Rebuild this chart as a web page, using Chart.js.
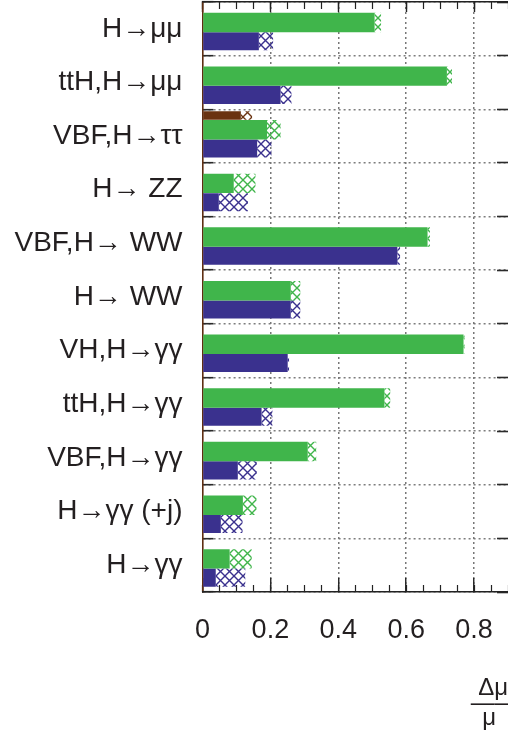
<!DOCTYPE html>
<html>
<head>
<meta charset="utf-8">
<style>
  html, body { margin: 0; padding: 0; background: #ffffff; }
  #wrap { width: 508px; height: 737px; }
</style>
<script src="https://cdn.jsdelivr.net/npm/chart.js@4.4.1/dist/chart.umd.min.js"></script>
</head>
<body>
<div id="wrap"><canvas id="c" width="508" height="737"></canvas></div>
<script>
// ---------- data ----------
const categories = ['H→μμ', 'ttH,H→μμ', 'VBF,H→ττ', 'H→ ZZ', 'VBF,H→ WW', 'H→ WW',
                    'VH,H→γγ', 'ttH,H→γγ', 'VBF,H→γγ', 'H→γγ (+j)', 'H→γγ'];
// green series: solid part and end of hatched part
const greenStat  = [0.507, 0.720, 0.190, 0.092, 0.663, 0.260, 0.769, 0.536, 0.310, 0.119, 0.080];
const greenTotal = [0.526, 0.735, 0.230, 0.156, 0.670, 0.288, 0.772, 0.553, 0.335, 0.159, 0.145];
// blue series
const blueStat   = [0.166, 0.230, 0.161, 0.048, 0.574, 0.260, 0.251, 0.174, 0.104, 0.054, 0.039];
const blueTotal  = [0.208, 0.262, 0.203, 0.134, 0.582, 0.288, 0.255, 0.206, 0.160, 0.118, 0.126];
// brown series (only VBF,H→ττ)
const brownStat  = [null, null, 0.113, null, null, null, null, null, null, null, null];
const brownTotal = [null, null, 0.146, null, null, null, null, null, null, null, null];
const xTickValues = [0, 0.2, 0.4, 0.6, 0.8];

// ---------- styles ----------
const COLORS = { green: '#40b54b', blue: '#3a318e', brown: '#6a3311' };
const FONT = "'Liberation Sans', Arial, Helvetica, sans-serif";
// bar slot inside a row: centre offset from row centre and thickness, as fractions of the row height
const SLOT = {
  brown: { offset: -0.383, thickness: 0.160 },
  green: { offset: -0.118, thickness: 0.362 },
  blue:  { offset:  0.232, thickness: 0.337 }
};
function slotOptions(s) {
  const cp = 4 * Math.abs(s.offset);
  return { categoryPercentage: cp, barPercentage: s.thickness / (cp / 2) };
}
function hatch(color) {
  const n = 9;
  const cv = document.createElement('canvas');
  cv.width = n; cv.height = n;
  const g = cv.getContext('2d');
  g.strokeStyle = color;
  g.lineWidth = 1.4;
  g.beginPath();
  g.moveTo(-2, -2); g.lineTo(n + 2, n + 2);
  g.moveTo(n + 2, -2); g.lineTo(-2, n + 2);
  g.stroke();
  return g.createPattern(cv, 'repeat');
}
function floating(a, b) { return a.map((v, i) => (v === null ? null : [v, b[i]])); }

function series(label, key, stat, total, stack) {
  const s = slotOptions(SLOT[key]);
  return [
    Object.assign({ label: label + ' (stat.)', data: stat, backgroundColor: COLORS[key],
      stack: stack, borderWidth: 0 }, s),
    Object.assign({ label: label + ' (total)', data: floating(stat, total), backgroundColor: hatch(COLORS[key]),
      stack: stack, borderWidth: 0 }, s)
  ];
}

const datasets = [
  ...series('green', 'green', greenStat, greenTotal, 'upper'),
  ...series('brown', 'brown', brownStat, brownTotal, 'upper'),
  ...series('blue', 'blue', blueStat, blueTotal, 'lower')
];

const fmt = v => String(Math.round(v * 100) / 100);
const isMajor = v => xTickValues.some(t => Math.abs(t - v) < 1e-6);
// fixed box sizes, no automatic label padding
function fixBox(w, h) {
  return s => {
    if (w !== null) s.width = w;
    if (h !== null) s.height = h;
    s.paddingTop = 0; s.paddingBottom = 0; s.paddingLeft = 0; s.paddingRight = 0;
  };
}

new Chart(document.getElementById('c'), {
  type: 'bar',
  data: { labels: categories, datasets: datasets },
  options: {
    indexAxis: 'y',
    responsive: false,
    animation: false,
    devicePixelRatio: 1,
    layout: { padding: { top: 2, left: 0, right: 0, bottom: 0 } },
    plugins: { legend: { display: false }, tooltip: { enabled: false } },
    scales: {
      y: {
        type: 'category', position: 'left', offset: true,
        grid: { offset: true, color: '#7d7d7d', lineWidth: 1.4, tickLength: -11, tickColor: '#2a2a2a', tickWidth: 1.6 },
        border: { display: true, color: '#5e2e12', width: 1.6, dash: [2, 3] },
        ticks: { color: '#231f20', font: { family: FONT, size: 28 }, padding: 31, autoSkip: false },
        afterFit: fixBox(202.5, null)
      },
      yRight: {
        type: 'category', position: 'right', labels: categories, offset: true,
        grid: { offset: true, drawOnChartArea: false, tickLength: -11, tickColor: '#2a2a2a', tickWidth: 1.6 },
        border: { display: false },
        ticks: { display: false },
        afterFit: fixBox(0, null)
      },
      x: {
        type: 'linear', position: 'bottom', min: 0, max: 0.9, weight: 1, stacked: false,
        grid: {
          color: c => (c.tick && c.tick.value > 0 ? '#777777' : 'rgba(0,0,0,0)'),
          lineWidth: 1.5, tickLength: -14, tickColor: '#222222', tickWidth: 1.4
        },
        border: { display: true, color: '#222222', width: 1.6, dash: [2, 3] },
        ticks: {
          stepSize: 0.2, includeBounds: false, autoSkip: false, maxRotation: 0,
          color: '#231f20', font: { family: FONT, size: 27 }, padding: 36,
          callback: v => (isMajor(v) ? fmt(v) : '')
        },
        title: {
          display: true, text: ['Δμ', '—–', 'μ\u2002'], align: 'end', color: '#231f20',
          font: { family: FONT, size: 24, lineHeight: 0.625 }, padding: { top: 0, bottom: 11.5 }
        },
        afterFit: fixBox(null, 145)
      },
      xMinor: {
        type: 'linear', position: 'bottom', min: 0, max: 0.9, weight: 0,
        grid: { drawOnChartArea: false, tickLength: -7, tickColor: '#222222', tickWidth: 1.2 },
        border: { display: false },
        ticks: { display: false, stepSize: 0.05, includeBounds: false, maxTicksLimit: 100 },
        afterFit: fixBox(null, 0)
      },
      xTop: {
        type: 'linear', position: 'top', min: 0, max: 0.9,
        grid: { drawOnChartArea: false, tickLength: -10, tickColor: '#222222', tickWidth: 1.4 },
        border: { display: true, color: '#222222', width: 1.6 },
        ticks: { display: false, stepSize: 0.2, includeBounds: false },
        afterFit: fixBox(null, 0)
      },
      xTopMinor: {
        type: 'linear', position: 'top', min: 0, max: 0.9,
        grid: { drawOnChartArea: false, tickLength: -7, tickColor: '#222222', tickWidth: 1.2 },
        border: { display: false },
        ticks: { display: false, stepSize: 0.05, includeBounds: false, maxTicksLimit: 100 },
        afterFit: fixBox(null, 0)
      }
    }
  }
});
</script>
</body>
</html>
